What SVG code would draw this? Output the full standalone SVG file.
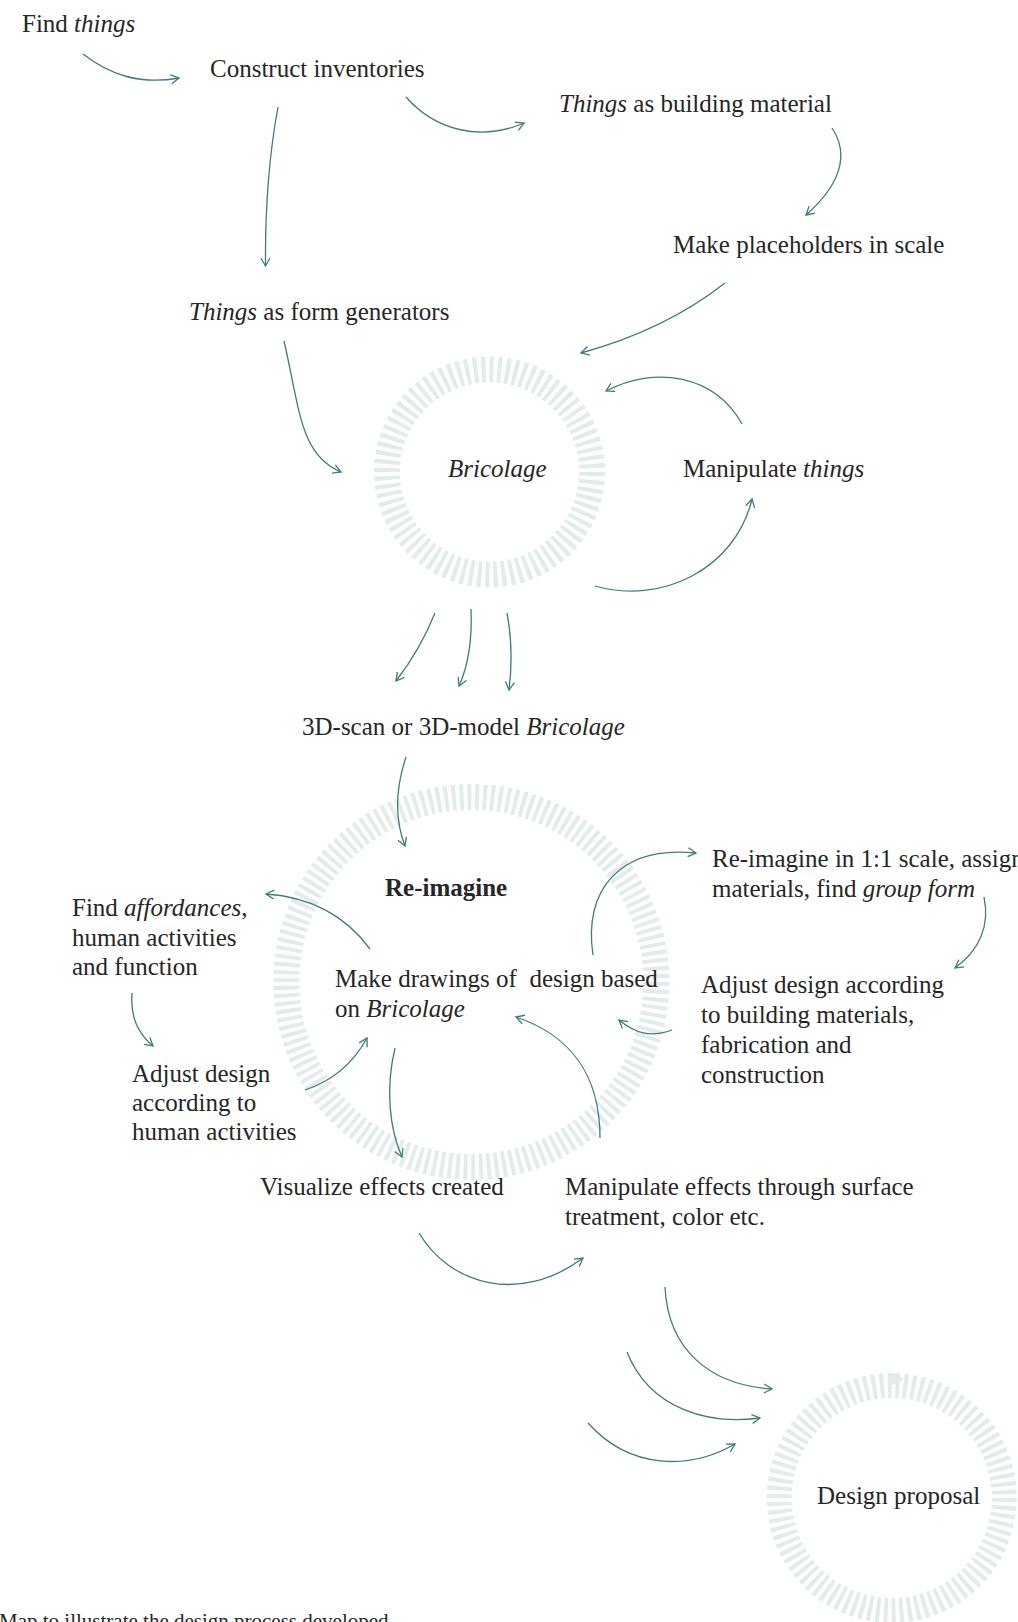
<svg xmlns="http://www.w3.org/2000/svg" width="1018" height="1622" viewBox="0 0 1018 1622">
<defs>
<style>
text{font-family:"Liberation Serif","Times New Roman",serif;font-size:25px;fill:#262626}
.i{font-style:italic}
.b{font-weight:bold}
.ring{fill:none;stroke:#e3eceb}
.c path{fill:none;stroke:#3f7c7a;stroke-width:1.3;marker-end:url(#ah)}
</style>
<marker id="ah" markerUnits="userSpaceOnUse" markerWidth="20" markerHeight="20" viewBox="-10 -10 20 20" refX="0" refY="0" orient="auto">
<path d="M-8,-4.5 L0,0 L-8,4.5" fill="none" stroke="#3f7c7a" stroke-width="1.3"/>
</marker>
</defs>
<rect width="1018" height="1622" fill="#fff"/>

<g id="bricolage">
<circle class="ring" cx="489.5" cy="472" r="102.5" stroke-width="26" pathLength="160" stroke-dasharray="1 1"/>
<text x="448" y="477" class="i">Bricolage</text>
</g>
<g id="reimagine">
<circle class="ring" cx="471.3" cy="982" r="185" stroke-width="26" pathLength="300" stroke-dasharray="1 1"/>
<text x="385" y="896" class="b">Re-imagine</text>
</g>
<g id="design-proposal">
<circle class="ring" cx="891.7" cy="1498" r="112.5" stroke-width="25" pathLength="180" stroke-dasharray="1 1"/>
<text x="817" y="1504">Design proposal</text>
</g>

<g id="find-things"><text x="22" y="32">Find <tspan class="i">things</tspan></text></g>
<g id="construct-inventories"><text x="210" y="77">Construct inventories</text></g>
<g id="things-building"><text x="559" y="112"><tspan class="i">Things</tspan> as building material</text></g>
<g id="placeholders"><text x="673" y="253">Make placeholders in scale</text></g>
<g id="things-form"><text x="189" y="320"><tspan class="i">Things</tspan> as form generators</text></g>
<g id="manipulate-things"><text x="683" y="477">Manipulate <tspan class="i">things</tspan></text></g>
<g id="scan"><text x="302" y="735">3D-scan or 3D-model <tspan class="i">Bricolage</tspan></text></g>
<g id="affordances"><text x="72" y="916">Find <tspan class="i">affordances</tspan>,</text><text x="72" y="946">human activities</text><text x="72" y="975">and function</text></g>
<g id="adjust-human"><text x="132" y="1082">Adjust design</text><text x="132" y="1111">according to</text><text x="132" y="1140">human activities</text></g>
<g id="drawings"><text x="335" y="987" xml:space="preserve">Make drawings of  design based</text><text x="335" y="1017">on <tspan class="i">Bricolage</tspan></text></g>
<g id="reimagine-scale"><text x="712" y="867">Re-imagine in 1:1 scale, assign</text><text x="712" y="897">materials, find <tspan class="i">group form</tspan></text></g>
<g id="adjust-materials"><text x="701" y="993">Adjust design according</text><text x="701" y="1023">to building materials,</text><text x="701" y="1053">fabrication and</text><text x="701" y="1083">construction</text></g>
<g id="visualize"><text x="260" y="1195">Visualize effects created</text></g>
<g id="manipulate-effects"><text x="565" y="1195">Manipulate effects through surface</text><text x="565" y="1225">treatment, color etc.</text></g>
<g id="caption"><text x="-1" y="1628" style="font-size:21px">Map to illustrate the design process developed</text></g>

<g id="connectors" class="c">
<path d="M83,54 C110,75 140,85 179,78"/>
<path d="M278,107 C270,150 265,200 265.5,266"/>
<path d="M406,97 C435,130 480,142 524,123"/>
<path d="M832,128 C850,155 840,185 806,215"/>
<path d="M725,283 Q665,330 581,353"/>
<path d="M284,341 C300,410 300,455 341,472"/>
<path d="M742,424 C715,375 655,365 606,391"/>
<path d="M595,586 C660,605 735,570 752,499"/>
<path d="M435,613 Q420,650 396,681"/>
<path d="M471,609 Q473,655 459,686"/>
<path d="M507,613 Q514,650 509,690"/>
<path d="M406,757 C395,790 395,820 405,846"/>
<path d="M370,949 C345,915 310,897 266,894"/>
<path d="M132,993 C130,1020 140,1035 153,1046"/>
<path d="M305,1090 C335,1080 355,1060 367,1038"/>
<path d="M395,1048 C385,1090 390,1130 402,1157"/>
<path d="M593,955 C583,890 620,845 696,853"/>
<path d="M984,897 C990,925 980,950 955,968"/>
<path d="M672,1030 C650,1038 635,1033 619,1020"/>
<path d="M600,1138 C600,1075 570,1035 516,1017"/>
<path d="M419,1233 C450,1285 520,1305 583,1258"/>
<path d="M665,1287 C668,1350 710,1385 772,1389"/>
<path d="M627,1352 C650,1410 710,1425 760,1418"/>
<path d="M588,1423 C630,1470 690,1470 735,1444"/>
</g>
</svg>
